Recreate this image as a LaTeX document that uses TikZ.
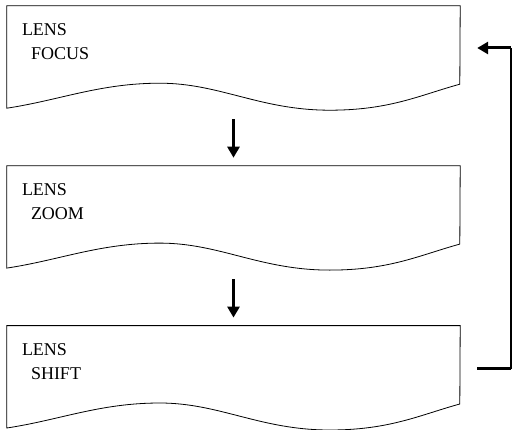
\documentclass[tikz,border=0pt]{standalone}
\usepackage{fontspec}
\setmainfont{Liberation Serif}
\usepackage{tikz}
\usetikzlibrary{arrows.meta, positioning, calc}

\begin{document}
\begin{tikzpicture}[
    x=1pt, y=1pt,
    font=\fontsize{18}{24}\selectfont,
    >={Triangle[width=12pt, length=11pt]},
    doc/.style={rectangle, inner sep=0pt, minimum width=453pt, minimum height=102pt},
    caption/.style={anchor=north west, inner sep=0pt, align=left},
    outline/.style={line width=0.8pt},
    flow/.style={->, line width=3pt, shorten <=11pt, shorten >=8pt},
    stub/.style={line width=3pt},
    backline/.style={line width=1.5pt}
]

% BOUNDS
\useasboundingbox (0,0) rectangle (513,429);

% STAGES
\node[doc] (focus) at (233.5,372) {};
\node[doc, below=57.5pt of focus] (zoom) {};
\node[doc, below=57.5pt of zoom] (shift) {};

% DOCUMENT OUTLINES
\foreach \n in {focus, zoom, shift}
    \draw[outline] (\n.north west) -- (\n.south west)
        .. controls +(53,8) and +(-60,0) .. ++(153,25)
        .. controls +(60,0) and +(-70,0) .. ++(170,-27)
        .. controls +(60,0) and +(-40,-11) .. ++(130,26)
        -- (\n.north east) -- cycle;

% CAPTIONS
\foreach \n/\t in {focus/FOCUS, zoom/ZOOM, shift/SHIFT}
    \node[caption] (\n-txt) at ($(\n.north west)+(15,-18)$) {LENS\\\hspace*{9pt}\t};

% ARROWS - DOWNWARD
\draw[flow] (focus.south) -- (zoom.north);
\draw[flow] (zoom.south) -- (shift.north);

% ARROWS - FEEDBACK
\coordinate (loopbot) at ($(shift.east)+(51,8)$);
\coordinate (looptop) at ($(focus.east)+(51,9)$);
\draw[stub, shorten <=17pt] ([yshift=8pt]shift.east) -- (loopbot);
\draw[backline] (loopbot) -- (looptop);
\draw[stub, ->, shorten >=17pt] (looptop) -- ([yshift=9pt]focus.east);

\end{tikzpicture}
\end{document}
